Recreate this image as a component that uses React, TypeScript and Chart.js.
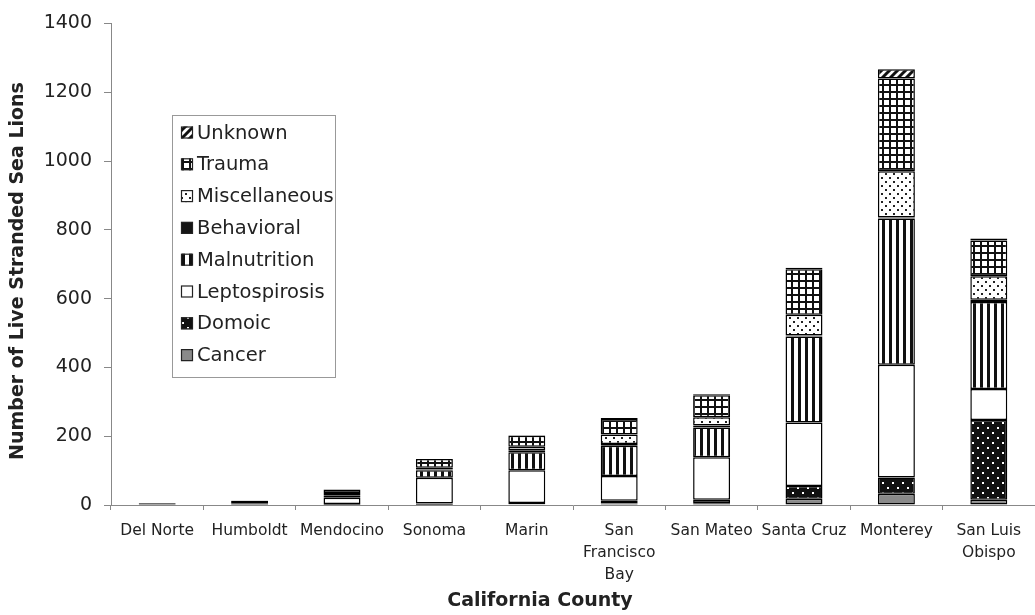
import React, { useEffect, useRef } from "react";
import { Chart, registerables } from "chart.js";
Chart.register(...registerables);

const categories: (string | string[])[] = [
  "Del Norte",
  "Humboldt",
  "Mendocino",
  "Sonoma",
  "Marin",
  ["San", "Francisco", "Bay"],
  "San Mateo",
  "Santa Cruz",
  "Monterey",
  ["San Luis", "Obispo"],
];

const cancer = [0, 0, 1, 1, 2, 4, 5, 18, 33, 15];
const domoic = [0, 1, 2, 3, 4, 8, 10, 37, 47, 232];
const leptospirosis = [1, 1, 18, 75, 95, 72, 124, 185, 328, 90];
const malnutrition = [1, 3, 6, 22, 52, 88, 86, 250, 425, 253];
const behavioral = [3, 7, 2, 2, 6, 5, 6, 3, 3, 7];
const miscellaneous = [0, 0, 6, 5, 10, 28, 24, 60, 134, 68];
const trauma = [0, 1, 10, 26, 32, 45, 64, 132, 270, 104];
const unknown = [0, 0, 0, 0, 2, 3, 3, 5, 27, 6];

const yTicks = [0, 200, 400, 600, 800, 1000, 1200, 1400];
const xTitle = "California County";
const yTitle = "Number of Live Stranded Sea Lions";

const FONT = "'DejaVu Sans', sans-serif";
const INK = "#222";

function makePattern(kind: string): CanvasPattern | string {
  const c = document.createElement("canvas");
  const g = c.getContext("2d")!;
  if (kind === "stripes") {
    c.width = 7; c.height = 7;
    g.fillStyle = "#fff"; g.fillRect(0, 0, 7, 7);
    g.fillStyle = "#111"; g.fillRect(0, 0, 3, 7);
  } else if (kind === "grid") {
    c.width = 7; c.height = 7;
    g.fillStyle = "#fff"; g.fillRect(0, 0, 7, 7);
    g.fillStyle = "#111"; g.fillRect(0, 0, 7, 2); g.fillRect(0, 0, 2, 7);
  } else if (kind === "dots") {
    c.width = 8; c.height = 8;
    g.fillStyle = "#fff"; g.fillRect(0, 0, 8, 8);
    g.fillStyle = "#222"; g.fillRect(1, 1, 2, 2); g.fillRect(5, 5, 2, 2);
  } else if (kind === "darkdots") {
    c.width = 10; c.height = 10;
    g.fillStyle = "#111"; g.fillRect(0, 0, 10, 10);
    g.fillStyle = "#fff"; g.fillRect(2, 2, 2, 2); g.fillRect(7, 7, 2, 2);
  } else if (kind === "hatch") {
    c.width = 8; c.height = 8;
    g.fillStyle = "#fff"; g.fillRect(0, 0, 8, 8);
    g.strokeStyle = "#111"; g.lineWidth = 3;
    g.beginPath();
    g.moveTo(-2, 10); g.lineTo(10, -2);
    g.moveTo(-6, 6); g.lineTo(6, -6);
    g.moveTo(2, 14); g.lineTo(14, 2);
    g.stroke();
  }
  const p = g.createPattern(c, "repeat");
  return p || "#888";
}

const legendPlugin = {
  id: "boxLegend",
  afterDraw(chart: any) {
    const ctx = chart.ctx as CanvasRenderingContext2D;
    const x0 = 172, y0 = 115, w = 163, h = 262;
    ctx.save();
    ctx.fillStyle = "#fff";
    ctx.fillRect(x0, y0, w, h);
    ctx.strokeStyle = "#999";
    ctx.lineWidth = 1;
    ctx.strokeRect(x0 + 0.5, y0 + 0.5, w, h);
    const items = chart.data.datasets.slice().reverse();
    items.forEach((ds: any, i: number) => {
      const cy = 132.5 + i * 31.8;
      ctx.fillStyle = ds.backgroundColor;
      ctx.fillRect(181, cy - 6, 12, 12);
      ctx.strokeStyle = INK;
      ctx.lineWidth = 1.2;
      ctx.strokeRect(181.5, cy - 5.5, 11, 11);
      ctx.fillStyle = INK;
      ctx.font = `19.5px ${FONT}`;
      ctx.textBaseline = "middle";
      ctx.textAlign = "left";
      ctx.fillText(ds.label, 197, cy + 1);
    });
    ctx.restore();
  },
};

const titlePlugin = {
  id: "axisTitles",
  afterDraw(chart: any) {
    const ctx = chart.ctx as CanvasRenderingContext2D;
    ctx.save();
    ctx.fillStyle = INK;
    ctx.font = `bold 19px ${FONT}`;
    ctx.textAlign = "center";
    ctx.textBaseline = "middle";
    ctx.fillText(xTitle, 540, 601);
    ctx.translate(18, 271);
    ctx.rotate(-Math.PI / 2);
    ctx.fillText(yTitle, 0, 0);
    ctx.restore();
  },
};

export default function App() {
  const ref = useRef<HTMLCanvasElement | null>(null);
  useEffect(() => {
    if (!ref.current) return;
    const border = "#000";
    const mk = (label: string, data: number[], bg: any) => ({
      label,
      data,
      backgroundColor: bg,
      borderColor: border,
      borderWidth: 1.5,
      borderSkipped: false,
      categoryPercentage: 1,
      barPercentage: 0.4,
    });
    const chart = new Chart(ref.current, {
      type: "bar",
      data: {
        labels: categories as any,
        datasets: [
          mk("Cancer", cancer, "#8a8a8a"),
          mk("Domoic", domoic, makePattern("darkdots")),
          mk("Leptospirosis", leptospirosis, "#ffffff"),
          mk("Malnutrition", malnutrition, makePattern("stripes")),
          mk("Behavioral", behavioral, "#151515"),
          mk("Miscellaneous", miscellaneous, makePattern("dots")),
          mk("Trauma", trauma, makePattern("grid")),
          mk("Unknown", unknown, makePattern("hatch")),
        ] as any,
      },
      options: {
        responsive: false,
        animation: false,
        layout: { padding: { top: 17, right: 0, left: 0, bottom: 0 } },
        plugins: {
          legend: { display: false },
          tooltip: { enabled: false },
        },
        scales: {
          x: {
            stacked: true,
            grid: { drawOnChartArea: false, drawTicks: true, tickLength: 5, color: "#888", offset: true },
            border: { color: "#888", width: 1 },
            ticks: {
              color: INK,
              font: { family: FONT, size: 15.5, lineHeight: 1.42 },
              padding: 10,
              maxRotation: 0,
              autoSkip: false,
            },
            afterFit: (s: any) => { s.height = 110; },
          },
          y: {
            stacked: true,
            min: 0,
            max: 1400,
            afterBuildTicks: (s: any) => { s.ticks = yTicks.map((v) => ({ value: v })); },
            grid: { drawOnChartArea: false, drawTicks: true, tickLength: 7, color: "#888" },
            border: { color: "#888", width: 1 },
            ticks: {
              color: INK,
              font: { family: FONT, size: 19 },
              padding: 12,
              callback: (v: any) => String(v),
            },
            afterFit: (s: any) => { s.width = 111; },
          },
        },
      },
      plugins: [legendPlugin, titlePlugin],
    });
    return () => chart.destroy();
  }, []);
  return (
    <div style={{ position: "absolute", left: 0, top: 0, width: 1035, height: 615, background: "#fff" }}>
      <canvas ref={ref} width={1035} height={615} style={{ display: "block", width: 1035, height: 615 }} />
    </div>
  );
}
